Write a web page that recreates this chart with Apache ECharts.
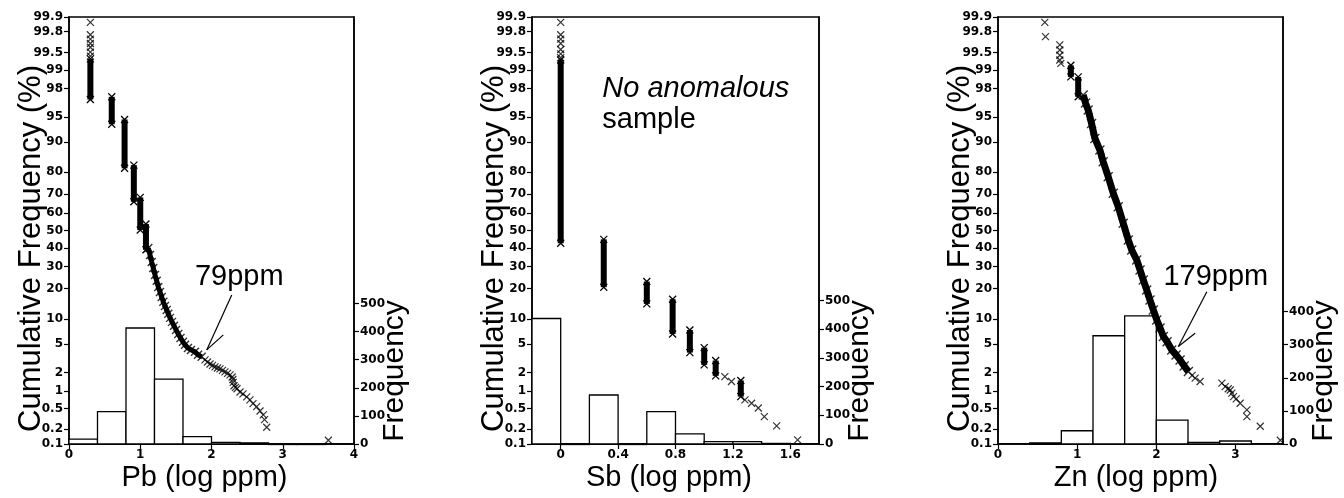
<!DOCTYPE html>
<html><head><meta charset="utf-8">
<script src="https://cdn.jsdelivr.net/npm/echarts@6/dist/echarts.min.js"></script>
<style>html,body{margin:0;padding:0;background:#fff}#c{width:1344px;height:498px}</style>
</head><body><div id="c"></div>
<script>
// ---------------- DATA ----------------
const probLabels = ['0.1','0.2','0.5','1','2','5','10','20','30','40','50','60','70','80','90','95','98','99','99.5','99.8','99.9'];

// Pb
const pbXTicks = [0, 1, 2, 3, 4];
const pbFreqTicks = [0, 100, 200, 300, 400, 500];
const pbBinStart = [0, 0.4, 0.8, 1.2, 1.6, 2.0, 2.4, 2.8, 3.2, 3.6];
const pbBinWidth = 0.4;
const pbCounts = [17, 115, 413, 231, 26, 6, 4, 0, 0, 1];
const pbStackX  = [0.30, 0.60, 0.78, 0.91, 1.00, 1.08];
const pbStackHi = [99.35, 97.35, 94.6, 82.8, 68.4, 53.7];
const pbStackLo = [97.1, 93.8, 81.6, 66.1, 50.3, 39.0];
const pbBandX = [1.113,1.137,1.161,1.183,1.207,1.231,1.253,1.277,1.301,1.324,1.347,1.371,1.394,1.418,1.446,1.474,1.502,1.534,1.565,1.600,1.628,1.670,1.712,1.768,1.811,1.862];
const pbBandP = [40.0,36.2,32.4,29.4,26.0,23.3,20.7,18.7,16.8,15.1,13.7,12.5,11.4,10.3,9.3,8.4,7.5,6.7,6.0,5.35,4.9,4.45,4.2,3.95,3.6,3.37];
const pbPointX = [0.30,0.30,0.30,0.30,0.30,0.30,0.30, 1.909,1.944,1.979,2.014,2.049,2.084,2.119,2.154,2.189,2.225,2.260,2.290,2.300,2.305,2.316,2.337,2.358,2.400,2.442,2.494,2.540,2.582,2.634,2.681,2.727,2.744,2.775,3.64];
const pbPointP = [99.42,99.51,99.6,99.66,99.72,99.77,99.87, 3.05,2.85,2.67,2.55,2.42,2.33,2.26,2.15,2.04,1.93,1.83,1.70,1.55,1.40,1.23,1.16,1.10,0.97,0.90,0.80,0.71,0.61,0.54,0.45,0.38,0.31,0.22,0.12];
const pbNote = '79ppm';
const pbNoteX = [1.768], pbNoteP = [25.1];
const pbArrowX = [2.284, 1.933, 2.166];   // tail, tip, barb
const pbArrowP = [17.5, 4.2, 6.54];

// Sb
const sbXTicks = [0, 0.4, 0.8, 1.2, 1.6];
const sbFreqTicks = [0, 100, 200, 300, 400, 500];
const sbBinStart = [-0.2, 0, 0.2, 0.4, 0.6, 0.8, 1.0, 1.2, 1.4, 1.6];
const sbBinWidth = 0.2;
const sbCounts = [438, 0, 171, 0, 113, 35, 8, 8, 2, 1];
const sbStackX  = [0, 0.30, 0.60, 0.78, 0.90, 1.00, 1.08, 1.255];
const sbStackHi = [99.32, 44.9, 23.0, 16.0, 7.5, 4.5, 2.99, 1.5];
const sbStackLo = [42.7, 20.6, 14.4, 6.7, 3.86, 2.59, 1.77, 0.81];
const sbPointX = [0,0,0,0,0,0,0, 1.144,1.19,1.284,1.33,1.377,1.419,1.505,1.651];
const sbPointP = [99.38,99.47,99.56,99.66,99.72,99.77,99.87, 1.72,1.44,0.71,0.62,0.51,0.354,0.235,0.122];
const sbNote = ['No anomalous', 'sample'];
const sbNoteX = [0.29, 0.29], sbNoteP = [97.96, 94.5];

// Zn
const znXTicks = [0, 1, 2, 3];
const znFreqTicks = [0, 100, 200, 300, 400];
const znBinStart = [0, 0.4, 0.8, 1.2, 1.6, 2.0, 2.4, 2.8, 3.2];
const znBinWidth = 0.4;
const znCounts = [1, 3, 40, 327, 387, 72, 5, 9, 1];
const znStackX  = [0.92, 1.013];
const znStackHi = [99.16, 98.69];
const znStackLo = [98.69, 97.35];
const znBandX = [1.076,1.106,1.139,1.182,1.224,1.287,1.329,1.392,1.456,1.519,1.582,1.646,1.689,1.752,1.794,1.835,1.878,1.920,1.962,2.005,2.047,2.089,2.136,2.195,2.249,2.300,2.351,2.405];
const znBandP = [97.5,96.74,95.93,93.94,90.87,87.78,84.01,78.18,70.47,63.47,54.15,44.5,38.9,33.5,28.4,23.7,19.5,15.7,12.5,9.78,7.93,6.24,5.35,4.2,3.59,3.05,2.5,2.06];
const znPointX = [0.591,0.600,0.781,0.781,0.781,0.781,0.794, 2.452,2.49,2.553,2.828,2.87,2.908,2.934,2.954,2.975,3.009,3.059,3.144,3.144,3.313,3.566];
const znPointP = [99.87,99.75,99.64,99.55,99.44,99.32,99.22, 1.8,1.63,1.44,1.36,1.19,1.10,1.05,0.93,0.81,0.74,0.62,0.47,0.354,0.23,0.12];
const znNote = '179ppm';
const znNoteX = [2.089], znNoteP = [25.1];
const znArrowX = [2.638, 2.278, 2.49];
const znArrowP = [18.8, 4.65, 6.85];

// ---------------- HELPERS ----------------
function probit(pct) {
  const p = pct / 100;
  const a = [-3.969683028665376e+01, 2.209460984245205e+02, -2.759285104469687e+02, 1.383577518672690e+02, -3.066479806614716e+01, 2.506628277459239e+00];
  const b = [-5.447609879822406e+01, 1.615858368580409e+02, -1.556989798598866e+02, 6.680131188771972e+01, -1.328068155288572e+01];
  const c = [-7.784894002430293e-03, -3.223964580411365e-01, -2.400758277161838e+00, -2.549732539343734e+00, 4.374664141464968e+00, 2.938163982698783e+00];
  const d = [7.784695709041462e-03, 3.224671290700398e-01, 2.445134137142996e+00, 3.754408661907416e+00];
  const pl = 0.02425;
  let q, r;
  if (p < pl) {
    q = Math.sqrt(-2 * Math.log(p));
    return (((((c[0]*q+c[1])*q+c[2])*q+c[3])*q+c[4])*q+c[5]) / ((((d[0]*q+d[1])*q+d[2])*q+d[3])*q+1);
  } else if (p <= 1 - pl) {
    q = p - 0.5; r = q * q;
    return (((((a[0]*r+a[1])*r+a[2])*r+a[3])*r+a[4])*r+a[5])*q / (((((b[0]*r+b[1])*r+b[2])*r+b[3])*r+b[4])*r+1);
  } else {
    q = Math.sqrt(-2 * Math.log(1 - p));
    return -(((((c[0]*q+c[1])*q+c[2])*q+c[3])*q+c[4])*q+c[5]) / ((((d[0]*q+d[1])*q+d[2])*q+d[3])*q+1);
  }
}
const zTicks = probLabels.map(l => probit(parseFloat(l)));
const zMin = probit(0.1), zMax = probit(99.9);
function zLabel(v) {
  for (let i = 0; i < zTicks.length; i++) if (Math.abs(zTicks[i] - v) < 1e-6) return probLabels[i];
  return '';
}
const FONT = "'Liberation Sans', Arial, Helvetica, sans-serif";
const TICKFONT = "'DejaVu Sans', sans-serif";

const panels = [
  {name:'Pb (log ppm)', xmin:0, xmax:4, xTicks:pbXTicks, fmax:1520, fTicks:pbFreqTicks,
   bins:pbBinStart.map((s,i)=>[s, s+pbBinWidth, pbCounts[i]]),
   stacks:pbStackX.map((x,i)=>[x, probit(pbStackLo[i]), probit(pbStackHi[i])]),
   band:pbBandX.map((x,i)=>[x, probit(pbBandP[i])]), bandW:5, bandSym:8,
   pts:pbPointX.map((x,i)=>[x, probit(pbPointP[i])]),
   grid:{left:69, top:17, width:285, height:427}, nameX:204.5},
  {name:'Sb (log ppm)', xmin:-0.2, xmax:1.8, xTicks:sbXTicks, fmax:1490, fTicks:sbFreqTicks,
   bins:sbBinStart.map((s,i)=>[s, s+sbBinWidth, sbCounts[i]]),
   stacks:sbStackX.map((x,i)=>[x, probit(sbStackLo[i]), probit(sbStackHi[i])]),
   band:[], bandW:5, bandSym:8,
   pts:sbPointX.map((x,i)=>[x, probit(sbPointP[i])]),
   grid:{left:532, top:17, width:287, height:427}, nameX:669},
  {name:'Zn (log ppm)', xmin:0, xmax:3.6, xTicks:znXTicks, fmax:1290, fTicks:znFreqTicks,
   bins:znBinStart.map((s,i)=>[s, s+znBinWidth, znCounts[i]]),
   stacks:znStackX.map((x,i)=>[x, probit(znStackLo[i]), probit(znStackHi[i])]),
   band:znBandX.map((x,i)=>[x, probit(znBandP[i])]), bandW:7, bandSym:9,
   pts:znPointX.map((x,i)=>[x, probit(znPointP[i])]),
   grid:{left:998, top:17, width:285, height:427}, nameX:1136}
];

const CROSS = 'path://M0,0L10,10M10,0L0,10';
const axisLineStyle = {color:'#000', width:1.5};
const tickStyle = {color:'#000', width:1.2};
const labelStyle = {color:'#000', fontFamily:TICKFONT, fontSize:12, fontWeight:'bold'};

function histRender(params, api) {
  const p0 = api.coord([api.value(0), 0]);
  const p1 = api.coord([api.value(1), api.value(2)]);
  return {type:'rect', shape:{x:p0[0], y:p1[1], width:p1[0]-p0[0], height:Math.max(p0[1]-p1[1], 0.5)},
          style:{fill:'#fff', stroke:'#000', lineWidth:1.3}};
}
function stackRender(params, api) {
  const x = api.value(0);
  const a = api.coord([x, api.value(2)]);
  const b = api.coord([x, api.value(1)]);
  const w = 6, s = 3.5;
  const st = {stroke:'#000', lineWidth:1.3};
  return {type:'group', children:[
    {type:'rect', shape:{x:a[0]-w/2, y:a[1], width:w, height:b[1]-a[1]}, style:{fill:'#000'}},
    {type:'line', shape:{x1:a[0]-s, y1:a[1]-s, x2:a[0]+s, y2:a[1]+s}, style:st},
    {type:'line', shape:{x1:a[0]+s, y1:a[1]-s, x2:a[0]-s, y2:a[1]+s}, style:st},
    {type:'line', shape:{x1:b[0]-s, y1:b[1]-s, x2:b[0]+s, y2:b[1]+s}, style:st},
    {type:'line', shape:{x1:b[0]+s, y1:b[1]-s, x2:b[0]-s, y2:b[1]+s}, style:st}
  ]};
}

const option = {animation:false, backgroundColor:'#fff', grid:[], xAxis:[], yAxis:[], series:[], graphic:[]};
const scatterIdx = [];
panels.forEach((P, i) => {
  option.grid.push(Object.assign({show:true, borderColor:'#000', borderWidth:1.5, containLabel:false}, P.grid));
  option.xAxis.push({gridIndex:i, type:'value', min:P.xmin, max:P.xmax,
    axisLine:{show:true, onZero:false, lineStyle:axisLineStyle},
    axisTick:{show:true, inside:false, length:5, customValues:P.xTicks, lineStyle:tickStyle},
    axisLabel:Object.assign({customValues:P.xTicks, margin:5, formatter:v=>String(+v.toFixed(2))}, labelStyle),
    splitLine:{show:false}});
  option.yAxis.push({gridIndex:i, type:'value', position:'left', min:zMin, max:zMax,
    axisLine:{show:true, onZero:false, lineStyle:axisLineStyle},
    axisTick:{show:true, inside:false, length:5, customValues:zTicks, lineStyle:tickStyle},
    axisLabel:Object.assign({customValues:zTicks, margin:6, formatter:zLabel}, labelStyle),
    splitLine:{show:false}});
  option.yAxis.push({gridIndex:i, type:'value', position:'right', min:0, max:P.fmax,
    axisLine:{show:true, onZero:false, lineStyle:axisLineStyle},
    axisTick:{show:true, inside:false, length:5, customValues:P.fTicks, lineStyle:tickStyle},
    axisLabel:Object.assign({customValues:P.fTicks, margin:6}, labelStyle),
    splitLine:{show:false}});
  option.series.push({type:'custom', xAxisIndex:i, yAxisIndex:2*i+1, renderItem:histRender,
    encode:{x:[0,1], y:2}, data:P.bins, silent:true, z:1});
  option.series.push({type:'custom', xAxisIndex:i, yAxisIndex:2*i, renderItem:stackRender,
    encode:{x:0, y:[1,2]}, data:P.stacks, silent:true, z:3});
  if (P.band.length) {
    option.series.push({type:'line', xAxisIndex:i, yAxisIndex:2*i, data:P.band, showSymbol:false,
      lineStyle:{color:'#000', width:P.bandW}, z:3, silent:true});
    option.series.push({type:'scatter', xAxisIndex:i, yAxisIndex:2*i, data:P.band, symbol:CROSS,
      symbolSize:P.bandSym, itemStyle:{color:'rgba(0,0,0,0)', borderColor:'#000', borderWidth:1.4}, z:4, silent:true});
  }
  scatterIdx.push(option.series.length);
  option.series.push({type:'scatter', xAxisIndex:i, yAxisIndex:2*i, data:P.pts, symbol:CROSS,
    symbolSize:7, itemStyle:{color:'rgba(0,0,0,0)', borderColor:'#000', borderWidth:1.2}, z:4, silent:true});

  const g = P.grid;
  option.graphic.push({type:'text', x:g.left-38, y:g.top+g.height/2+18, rotation:Math.PI/2,
    style:{text:'Cumulative Frequency (%)', font:'31px '+FONT, fill:'#000', align:'center', verticalAlign:'middle', textAlign:'center', textVerticalAlign:'middle'}});
  option.graphic.push({type:'text', x:g.left+g.width+41, y:371, rotation:Math.PI/2,
    style:{text:'Frequency', font:'30px '+FONT, fill:'#000', align:'center', verticalAlign:'middle', textAlign:'center', textVerticalAlign:'middle'}});
  option.graphic.push({type:'text', x:P.nameX, y:478,
    style:{text:P.name, font:'29px '+FONT, fill:'#000', align:'center', verticalAlign:'middle', textAlign:'center', textVerticalAlign:'middle'}});
});

const chart = echarts.init(document.getElementById('c'));
chart.setOption(option);

// annotations, placed in data coordinates
function toPx(i, x, p) { return chart.convertToPixel({seriesIndex: scatterIdx[i]}, [x, probit(p)]); }
const ann = [];
function arrow(i, xs, ps) {
  const t = toPx(i, xs[0], ps[0]), h = toPx(i, xs[1], ps[1]), b = toPx(i, xs[2], ps[2]);
  ann.push({type:'line', shape:{x1:t[0], y1:t[1], x2:h[0], y2:h[1]}, style:{stroke:'#000', lineWidth:1.2}});
  ann.push({type:'line', shape:{x1:b[0], y1:b[1], x2:h[0], y2:h[1]}, style:{stroke:'#000', lineWidth:1.2}});
}
function note(i, txt, x, p, italic) {
  const q = toPx(i, x, p);
  ann.push({type:'text', x:q[0], y:q[1], style:{text:txt, font:(italic?'italic ':'')+'29px '+FONT, fill:'#000',
    align:'left', verticalAlign:'middle', textAlign:'left', textVerticalAlign:'middle'}});
}
arrow(0, pbArrowX, pbArrowP);
note(0, pbNote, pbNoteX[0], pbNoteP[0], false);
note(1, sbNote[0], sbNoteX[0], sbNoteP[0], true);
note(1, sbNote[1], sbNoteX[1], sbNoteP[1], false);
arrow(2, znArrowX, znArrowP);
note(2, znNote, znNoteX[0], znNoteP[0], false);
chart.setOption({graphic: option.graphic.concat(ann)});
</script>
</body></html>
